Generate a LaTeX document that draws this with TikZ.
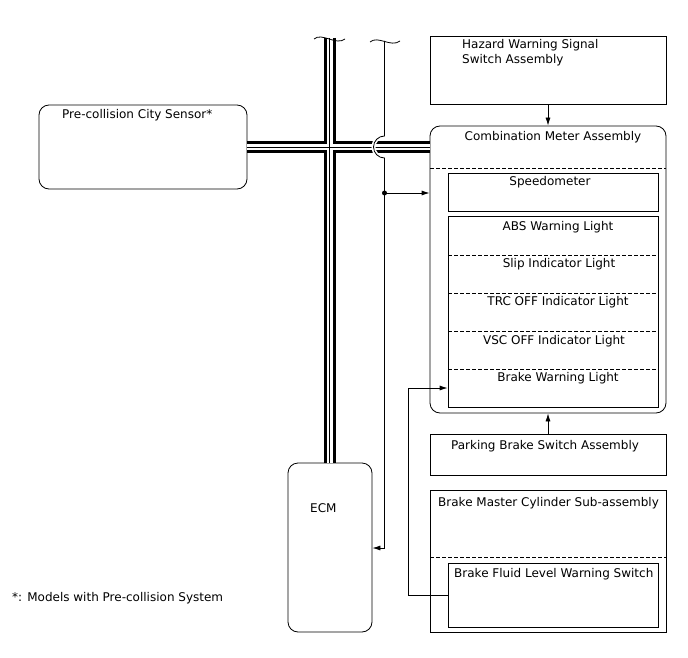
\documentclass[tikz,border=0pt]{standalone}
\usepackage{fontspec}
\setmainfont{DejaVu Sans}
\usetikzlibrary{arrows.meta}

\begin{document}
\begin{tikzpicture}[x=1pt, y=-1pt,
          box/.style={draw, line width=0.8pt, inner sep=0pt},
          rbox/.style={box, rounded corners=10pt},
          sep/.style={line width=0.7pt, dash pattern=on 4pt off 2pt},
          lbl/.style={font=\fontsize{12}{14}\selectfont, inner sep=0pt},
          ar/.style={line width=0.8pt, -{Latex[length=8pt, width=5pt]}},
          wire/.style={line width=0.8pt}
        ]
        \useasboundingbox (0,0) rectangle (688,658);
        % boxes
        \node[box, minimum width=236pt, minimum height=68pt] (haz) at (548,70) {};
        \node[rbox, minimum width=236pt, minimum height=287pt] (meter) at (548,269.5) {};
        \node[box, minimum width=210pt, minimum height=38pt] (speedo) at (553,192) {};
        \node[box, minimum width=210pt, minimum height=191pt] (lights) at (553,311.5) {};
        \node[box, minimum width=236pt, minimum height=41pt] (park) at (548,454.5) {};
        \node[box, minimum width=236pt, minimum height=142pt] (master) at (548,561) {};
        \node[box, minimum width=210pt, minimum height=64pt] (fluid) at (553,595) {};
        \node[rbox, minimum width=208pt, minimum height=84pt] (sensor) at (143,147) {};
        \node[rbox, minimum width=84pt, minimum height=169pt] (ecm) at (330,547.5) {};
        % dashed separators
        \draw[sep] (430,168) -- (666,168);
        \draw[sep] (430,557) -- (666,557);
        \foreach \y in {255,293,331,369}
          \draw[sep] (448,\y) -- (658,\y);
        % texts
        \node[lbl, anchor=base west] (hazt1) at (462,49) {Hazard Warning Signal};
        \node[lbl, anchor=base west] (hazt2) at (462,64) {Switch Assembly};
        \node[lbl, anchor=base] (metert) at (553,141) {Combination Meter Assembly};
        \node[lbl, anchor=base] (speedot) at (550,185) {Speedometer};
        \node[lbl, anchor=base] (abst) at (558,230) {ABS Warning Light};
        \node[lbl, anchor=base] (slipt) at (559,267) {Slip Indicator Light};
        \node[lbl, anchor=base] (trct) at (558,305) {TRC OFF Indicator Light};
        \node[lbl, anchor=base] (vsct) at (554,344) {VSC OFF Indicator Light};
        \node[lbl, anchor=base] (brakt) at (558,381) {Brake Warning Light};
        \node[lbl, anchor=base] (parkt) at (545,449) {Parking Brake Switch Assembly};
        \node[lbl, anchor=base west] (mastert) at (438,506) {Brake Master Cylinder Sub-assembly};
        \node[lbl, anchor=base west] (fluidt) at (454,577) {Brake Fluid Level Warning Switch};
        \node[lbl, anchor=base west] (sensort) at (62,119) {Pre-collision City Sensor*};
        \node[lbl, anchor=base west] (ecmt) at (310,512) {ECM};
        \node[lbl, anchor=base west] (note) at (12,601) {*: Models with Pre-collision System};
        % bus
        \coordinate (busT) at (329.5,38);
        \foreach \w/\c in {12pt/black, 6pt/white, 0.8pt/black}
          \draw[line width=\w, \c] (busT) -- (busT |- ecm.north)
            (sensor.east) -- (meter.west |- sensor.east);
        \draw[wire] (314,39) .. controls (322,32) and (336,46) .. (345,39);
        % signal wire
        \coordinate (wT) at (384.5,41);
        \coordinate (dot) at (384.5,193);
        \coordinate (wB) at (384.5,548);
        \draw[wire] (370,42) .. controls (378,35) and (391,48) .. (400,41);
        \draw[white, line width=4pt] (384.5,136) arc[start angle=270, end angle=90, radius=11];
        \draw[wire] (wT) -- (384.5,136) arc[start angle=270, end angle=90, radius=11] -- (wB);
        \fill (dot) circle (2.5pt);
        \draw[ar] (dot) -- (meter.west |- dot);
        \draw[ar] (wB) -- (ecm.east |- wB);
        % switches
        \draw[ar] (haz.south) -- (meter.north);
        \draw[ar] (park.north) -- (meter.south);
        \coordinate (bend1) at (408.5,595);
        \coordinate (bend2) at (408.5,388);
        \draw[ar] (fluid.west) -- (bend1) -- (bend2) -- (lights.west |- bend2);
      \end{tikzpicture}
\end{document}
